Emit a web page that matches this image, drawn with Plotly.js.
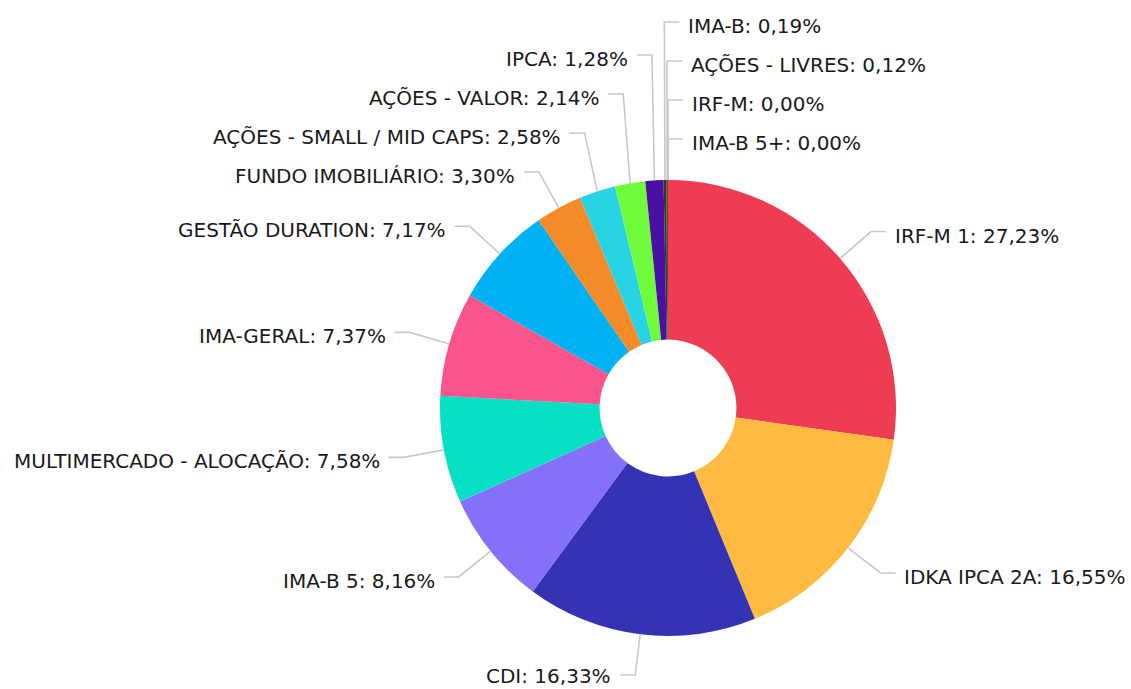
<!DOCTYPE html>
<html>
<head>
<meta charset="utf-8">
<script src="https://cdn.plot.ly/plotly-3.0.1.min.js"></script>
<style>html,body{margin:0;padding:0;background:#fff;}</style>
</head>
<body>
<div id="chart" style="width:1131px;height:689px;"></div>
<script>
const categories = ["IRF-M 1", "IDKA IPCA 2A", "CDI", "IMA-B 5", "MULTIMERCADO - ALOCAÇÃO", "IMA-GERAL", "GESTÃO DURATION", "FUNDO IMOBILIÁRIO", "AÇÕES - SMALL / MID CAPS", "AÇÕES - VALOR", "IPCA", "IMA-B", "AÇÕES - LIVRES", "IRF-M", "IMA-B 5+"];
const values = [27.23, 16.55, 16.33, 8.16, 7.58, 7.37, 7.17, 3.30, 2.58, 2.14, 1.28, 0.19, 0.12, 0.00, 0.00];
const colors = ["#EE3D53", "#FFBA42", "#3333B3", "#8470FA", "#08E0C6", "#F9548C", "#00B2F4", "#F58B28", "#28D4E4", "#70FA3C", "#4A0FA3", "#333333", "#5a4a20", "#1a1a1a", "#222222"];

const W = 1131, H = 689;
const cx = 668, cy = 408, R = 228;
const elbowR = 269, spacing = 39, hseg = 15, tgap = 7;
const FONT = {family: "DejaVu Sans, sans-serif", size: 20, color: "#1a1a1a"};

function fmt(v){ return v.toFixed(2).replace('.', ','); }

const total = values.reduce((a,b)=>a+b,0);
let cum = 0;
const labels = values.map((v,i)=>{
  const mid = (cum + v/2) / total * 360;
  cum += v;
  const a = mid * Math.PI/180;
  let right = (mid < 180) || (mid > 359);
  const key = mid > 359 ? mid - 360 : mid;
  return {i, mid, a, right, key,
    sx: cx + R*Math.sin(a), sy: cy - R*Math.cos(a),
    ex: cx + elbowR*Math.sin(a), ey: cy - elbowR*Math.cos(a)};
});
// right side: process bottom first
const rightL = labels.filter(l=>l.right).sort((p,q)=> (q.key - p.key) || (q.i - p.i));
const leftL = labels.filter(l=>!l.right).sort((p,q)=> p.mid - q.mid);
[rightL, leftL].forEach(group=>{
  let prev = null;
  group.forEach(l=>{
    l.ly = prev === null ? l.ey : Math.min(l.ey, prev - spacing);
    prev = l.ly;
  });
});

const px = x => x / W, py = y => 1 - y / H;
const shapes = [], annotations = [];
labels.forEach(l=>{
  const dir = l.right ? 1 : -1;
  const hx = l.ex + dir*hseg;
  shapes.push({type:'path', xref:'paper', yref:'paper',
    path: `M ${px(l.sx)} ${py(l.sy)} L ${px(l.ex)} ${py(l.ly)} L ${px(hx)} ${py(l.ly)}`,
    line:{color:'#c8c8c8', width:1.6}});
  const ty = Math.min(l.ly + 4, H - 13);
  annotations.push({xref:'paper', yref:'paper', x: px(hx + dir*tgap), y: py(ty),
    xanchor: l.right ? 'left' : 'right', yanchor:'middle', showarrow:false,
    text: categories[l.i] + ': ' + fmt(values[l.i]) + '%', font: FONT});
});

const trace = {
  type:'pie', labels: categories, values: values, sort:false, direction:'clockwise', rotation:0,
  hole: 0.3, textinfo:'none', marker:{colors: colors, line:{width:0}},
  domain:{x:[(cx-R)/W, (cx+R)/W], y:[1-(cy+R)/H, 1-(cy-R)/H]},
  showlegend:false, hoverinfo:'label+percent'
};
Plotly.newPlot('chart', [trace], {
  width: W, height: H, margin:{l:0,r:0,t:0,b:0}, paper_bgcolor:'#fff',
  showlegend:false, shapes, annotations
}, {displayModeBar:false, staticPlot:true});
</script>
</body>
</html>
